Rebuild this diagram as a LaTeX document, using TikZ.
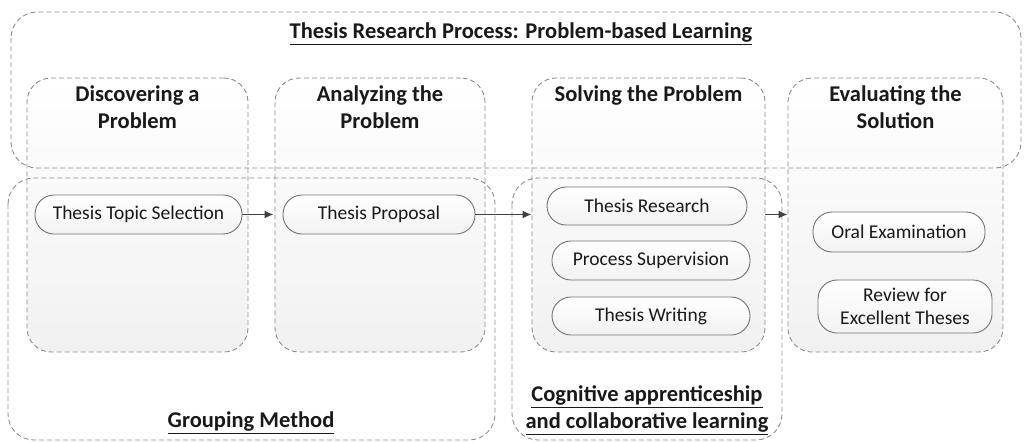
\documentclass[tikz,border=0pt]{standalone}
\usepackage{fontspec}
\setmainfont{Carlito}
\usepackage{tikz}
\usetikzlibrary{arrows,arrows.meta,positioning}

\tikzset{
  gruppe/.style={draw=black!45, dash pattern=on 5pt off 3pt, line width=0.9pt, rounded corners=26pt},
  phase/.style={draw=black!45, dash pattern=on 5pt off 3pt, line width=0.9pt, rounded corners=24pt,
    top color=white, bottom color=gray!11, minimum height=274pt, inner sep=0pt},
  pille/.style={draw=black!55, line width=0.9pt, rounded corners=19pt, top color=white,
    bottom color=gray!10, text=black!90, font=\fontsize{19.5}{23}\selectfont, align=center, inner sep=0pt},
  ptitel/.style={font=\bfseries\fontsize{22.5}{27}\selectfont, align=center, text=black!90},
  pfeil/.style={-{Latex[length=9pt,width=8pt]}, line width=1.6pt, black!75},
}

\begin{document}
\begin{tikzpicture}[x=1pt,y=-1pt]
\useasboundingbox (0,0) rectangle (1024,442);
%Die vier Phasen (Mittelpunkt x und Breite in px)
\foreach \name/\x/\w in {p1/137.5/221, p2/380/210, p3/648.5/233, p4/895.5/215}{
  \node[phase, minimum width=\w pt] (\name) at (\x,215) {};
}
\node[ptitel, below=5pt of p1.north] (t1) {Discovering a\\Problem};
\node[ptitel, below=5pt of p2.north] (t2) {Analyzing the\\Problem};
\node[ptitel, below=5pt of p3.north] (t3) {Solving the Problem};
\node[ptitel, below=5pt of p4.north] (t4) {Evaluating the\\Solution};
%Gruppen (gestrichelt, ohne Fuellung)
\draw[gruppe] (11,12) rectangle (1021,168);
\draw[gruppe] (8,178) rectangle (495,440);
\draw[gruppe] (512,178) rectangle (782,440);
\node[ptitel] (titel) at (521,34) {\underline{Thesis Research Process: Problem-based Learning}};
\node[ptitel] (grp) at (251,423) {\underline{Grouping Method}};
\node[ptitel] (cog) at (647,410) {\underline{Cognitive apprenticeship}\\\underline{and collaborative learning}};
%Aktivitaeten
\node[pille, minimum width=207pt, minimum height=39pt] (topic) at (138.5,214.5) {Thesis Topic Selection};
\node[pille, minimum width=192pt, minimum height=39pt] (proposal) at (379,214.5) {Thesis Proposal};
\node[pille, minimum width=200pt, minimum height=38pt] (research) at (647,206) {Thesis Research};
\node[pille, minimum width=198pt, minimum height=39pt] (supervision) at (651,260.5) {Process Supervision};
\node[pille, minimum width=198pt, minimum height=38pt] (writing) at (651,316) {Thesis Writing};
\node[pille, minimum width=172pt, minimum height=40pt] (oral) at (899,232) {Oral Examination};
\node[pille, minimum width=174pt, minimum height=53pt] (review) at (905,306.5) {Review for\\Excellent Theses};
%Pfeile
\draw[pfeil] (topic.east) -- ([xshift=-1pt]topic -| p2.west);
\draw[pfeil] (proposal.east) -- (proposal -| p3.west);
\draw[pfeil] (p3.east |- topic) -- (p4.west |- topic);
\end{tikzpicture}
\end{document}
